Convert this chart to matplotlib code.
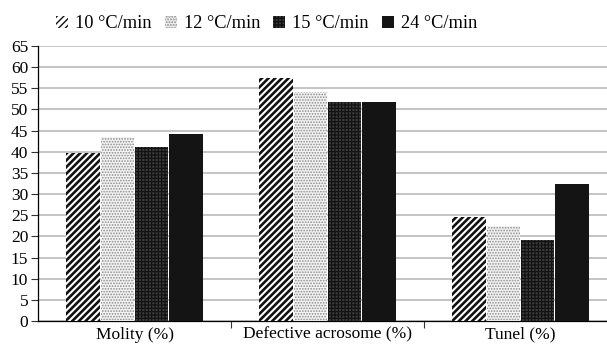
import matplotlib.pyplot as plt
import numpy as np

plt.rcParams['font.family'] = ['Liberation Serif', 'DejaVu Serif']
plt.rcParams['font.size'] = 12.5

categories = ['Molity (%)', 'Defective acrosome (%)', 'Tunel (%)']
series = ['10 °C/min', '12 °C/min', '15 °C/min', '24 °C/min']
rate_10 = [39.8, 57.4, 24.5]
rate_12 = [43.4, 54.1, 22.5]
rate_15 = [41.1, 51.7, 19.1]
rate_24 = [44.1, 51.8, 32.3]
values = [rate_10, rate_12, rate_15, rate_24]

# style per series: facecolor, hatch, hatch colour, hatch width
styles = [
    ('white', '/////', '#111111', 1.9),
    ('#f2f2f2', '......', '#8c8c8c', 0.8),
    ('#3a3a3a', '+++++', '#111111', 0.8),
    ('#141414', '', '#141414', 1.0),
]

fig = plt.figure(figsize=(6.07, 3.48), dpi=100)
ax = fig.add_axes([38 / 607, 27 / 348, 579 / 607, 275 / 348])

x = np.arange(len(categories))
width = 0.178
for i, (vals, (fc, hatch, hc, hlw)) in enumerate(zip(values, styles)):
    offs = (i - 1.5) * width
    bars = ax.bar(x + offs, vals, width=width * 0.97, color=fc, hatch=hatch,
                  edgecolor=hc, linewidth=0, label=series[i], zorder=3)
    for b in bars:
        try:
            b.set_hatch_linewidth(hlw)
        except AttributeError:
            pass

ax.set_xlim(-0.5, 2.5)
ax.set_ylim(0, 65)
ax.set_yticks(np.arange(0, 66, 5))
ax.yaxis.grid(True, color='#c4c4c4', linewidth=1.4, zorder=0)
ax.set_axisbelow(True)

ax.set_xticks(x)
ax.set_xticklabels(categories)
ax.tick_params(axis='x', length=0, pad=4)
ax.set_xticks([0.5, 1.5], minor=True)
ax.tick_params(axis='x', which='minor', length=5, width=0.8, color='#333333')
ax.tick_params(axis='y', length=5, width=0.8, color='#333333', pad=2)

for s in ['top', 'right']:
    ax.spines[s].set_visible(False)
ax.spines['left'].set_linewidth(0.9)
ax.spines['bottom'].set_linewidth(0.9)

ax.legend(loc='lower center', bbox_to_anchor=(0.395, 1.0), ncol=4, frameon=False,
          fontsize=13.2, handlelength=0.65, handleheight=0.65, handletextpad=0.4,
          columnspacing=0.7, borderaxespad=0.35)

plt.savefig('out.png', dpi=100)
